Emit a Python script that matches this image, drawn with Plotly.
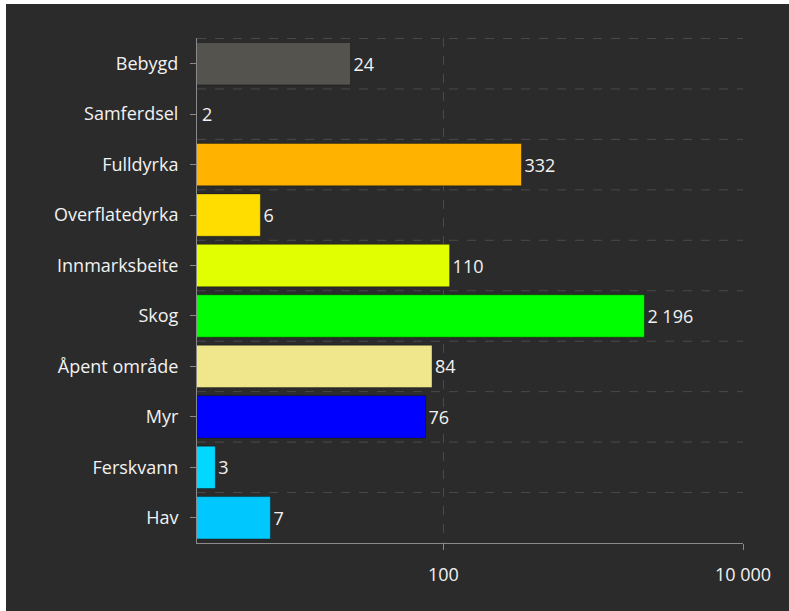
import math
import plotly.graph_objects as go

# Arealtyper og verdier
categories = ["Bebygd", "Samferdsel", "Fulldyrka", "Overflatedyrka", "Innmarksbeite",
              "Skog", "Åpent område", "Myr", "Ferskvann", "Hav"]
values = [24, 2, 332, 6, 110, 2196, 84, 76, 3, 7]
bar_colors = ["#55534e", "#9a9a9a", "#ffb300", "#ffdd00", "#e1ff00",
              "#00ff00", "#f0e68c", "#0000ff", "#00d8ff", "#00c8ff"]
x_ticks = [100, 10000]
x_range = [0.355, 4]  # log10

BG = "#2b2b2b"
GRID = "#4a4a4a"
AXIS = "#8a8a8a"
TXT = "#f2f2f2"
FS = 18

def fmt(v):
    return f"{v:,}".replace(",", " ")

x_min = 10 ** x_range[0]
labels = [fmt(v) if v >= x_min else "" for v in values]

fig = go.Figure(go.Bar(
    x=values, y=categories, orientation="h",
    marker=dict(color=bar_colors, line=dict(color="rgba(0,0,0,0.35)", width=1)),
    text=labels, texttemplate="%{text}", textposition="outside",
    textfont=dict(color=TXT, size=FS),
    cliponaxis=False, width=0.84,
))

# verdier under aksens minimum får etiketten ved aksestart
for cat, v in zip(categories, values):
    if v < x_min:
        fig.add_annotation(x=x_range[0], y=cat, text=fmt(v), showarrow=False,
                           xanchor="left", xshift=3, font=dict(color=TXT, size=FS))

# stiplede skillelinjer mellom kategoriene
for i in range(len(categories)):
    fig.add_hline(y=i - 0.5, line=dict(color=GRID, width=1, dash="dash"), layer="below")

fig.update_layout(
    width=789, height=611,
    paper_bgcolor=BG, plot_bgcolor=BG,
    margin=dict(l=191, r=52, t=34, b=72),
    font=dict(family="Open Sans", size=FS, color=TXT),
    separators=", ",
    showlegend=False,
)
fig.update_xaxes(
    type="log", range=x_range,
    tickvals=x_ticks, tickformat=",",
    showgrid=True, gridcolor=GRID, griddash="dash", gridwidth=1,
    showline=True, linecolor=AXIS, linewidth=1,
    ticks="outside", ticklen=6, tickcolor=AXIS,
    tickfont=dict(size=FS, color=TXT),
    ticklabelstandoff=9,
    zeroline=False,
)
fig.update_yaxes(
    autorange="reversed",
    showgrid=False,
    showline=True, linecolor=AXIS, linewidth=1,
    ticks="outside", ticklen=6, tickcolor=AXIS,
    tickfont=dict(size=FS, color=TXT),
    ticklabelstandoff=8,
)

# skjermbildet har en smal hvit kant oppe og til venstre
fig.write_html("out.html", post_script="document.body.style.margin='4px 0 0 6px';")
